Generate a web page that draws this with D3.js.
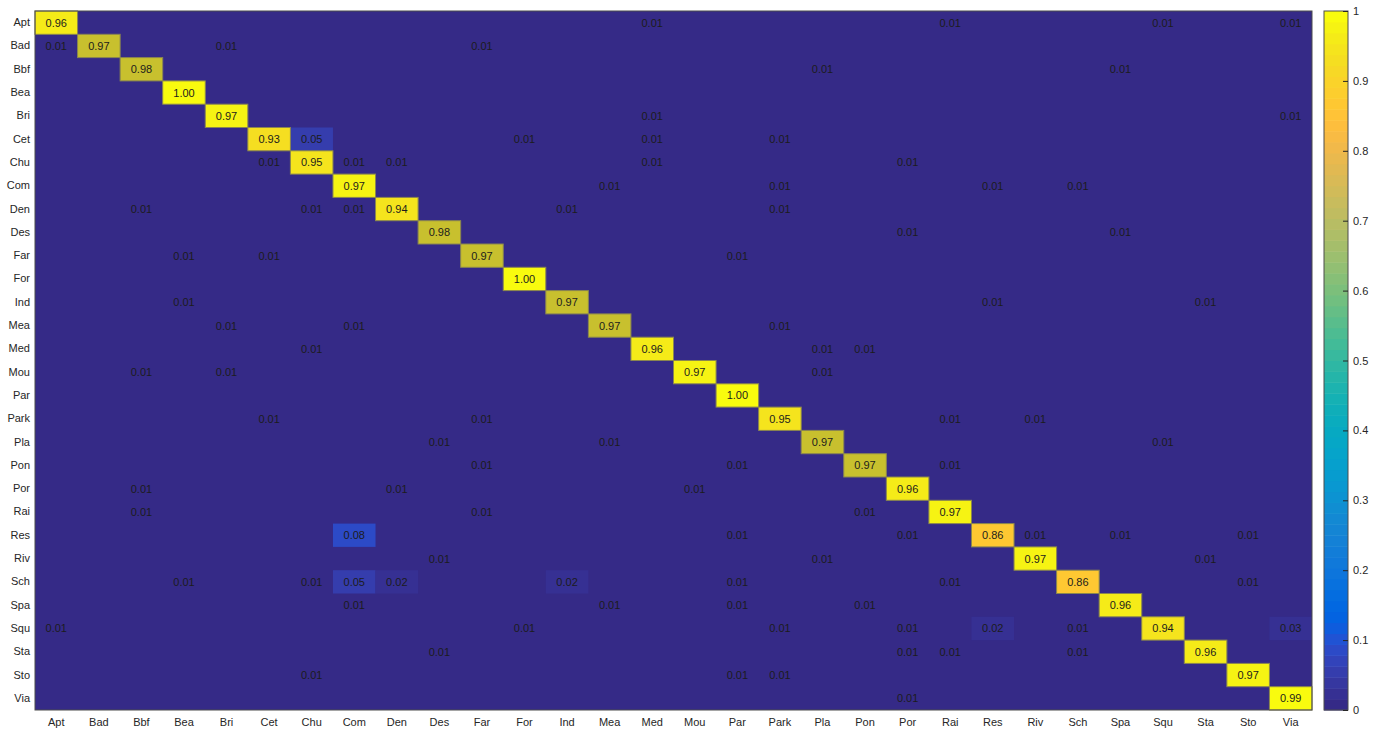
<!DOCTYPE html>
<html>
<head>
<meta charset="utf-8">
<script src="https://cdn.jsdelivr.net/npm/d3@7"></script>
<style>
  body { margin: 0; background: #fff; }
  svg { display: block; font-family: 'Liberation Sans', Arial, sans-serif; }
  .axis text { fill: #262626; font-size: 11px; }
  .axis path, .axis line { stroke: #262626; }
</style>
</head>
<body>
<div id="chart"></div>
<script>
// class names (rows = true class, columns = predicted class)
const classes = ['Apt', 'Bad', 'Bbf', 'Bea', 'Bri', 'Cet', 'Chu', 'Com', 'Den', 'Des',
  'Far', 'For', 'Ind', 'Mea', 'Med', 'Mou', 'Par', 'Park', 'Pla', 'Pon',
  'Por', 'Rai', 'Res', 'Riv', 'Sch', 'Spa', 'Squ', 'Sta', 'Sto', 'Via']

// diagonal (correct) rates, same order as classes
const diagonal = [0.96, 0.97, 0.98, 1.00, 0.97, 0.93, 0.95, 0.97, 0.94, 0.98,
  0.97, 1.00, 0.97, 0.97, 0.96, 0.97, 1.00, 0.95, 0.97, 0.97,
  0.96, 0.97, 0.86, 0.97, 0.86, 0.96, 0.94, 0.96, 0.97, 0.99]

// diagonal cells that are drawn in the muted (olive) shade
const mutedDiagonal = ['Bad', 'Bbf', 'Des', 'Far', 'Ind', 'Mea', 'Pla', 'Pon']

// off-diagonal confusions: [true, predicted, rate]
const confusions = [
  ['Apt', 'Med', 0.01], ['Apt', 'Rai', 0.01], ['Apt', 'Squ', 0.01], ['Apt', 'Via', 0.01],
  ['Bad', 'Apt', 0.01], ['Bad', 'Bri', 0.01], ['Bad', 'Far', 0.01],
  ['Bbf', 'Pla', 0.01], ['Bbf', 'Spa', 0.01],
  ['Bri', 'Med', 0.01], ['Bri', 'Via', 0.01],
  ['Cet', 'Chu', 0.05], ['Cet', 'For', 0.01], ['Cet', 'Med', 0.01], ['Cet', 'Park', 0.01],
  ['Chu', 'Cet', 0.01], ['Chu', 'Com', 0.01], ['Chu', 'Den', 0.01], ['Chu', 'Med', 0.01], ['Chu', 'Por', 0.01],
  ['Com', 'Mea', 0.01], ['Com', 'Park', 0.01], ['Com', 'Res', 0.01], ['Com', 'Sch', 0.01],
  ['Den', 'Bbf', 0.01], ['Den', 'Chu', 0.01], ['Den', 'Com', 0.01], ['Den', 'Ind', 0.01], ['Den', 'Park', 0.01],
  ['Des', 'Por', 0.01], ['Des', 'Spa', 0.01],
  ['Far', 'Bea', 0.01], ['Far', 'Cet', 0.01], ['Far', 'Par', 0.01],
  ['Ind', 'Bea', 0.01], ['Ind', 'Res', 0.01], ['Ind', 'Sta', 0.01],
  ['Mea', 'Bri', 0.01], ['Mea', 'Com', 0.01], ['Mea', 'Park', 0.01],
  ['Med', 'Chu', 0.01], ['Med', 'Pla', 0.01], ['Med', 'Pon', 0.01],
  ['Mou', 'Bbf', 0.01], ['Mou', 'Bri', 0.01], ['Mou', 'Pla', 0.01],
  ['Park', 'Cet', 0.01], ['Park', 'Far', 0.01], ['Park', 'Rai', 0.01], ['Park', 'Riv', 0.01],
  ['Pla', 'Des', 0.01], ['Pla', 'Mea', 0.01], ['Pla', 'Squ', 0.01],
  ['Pon', 'Far', 0.01], ['Pon', 'Par', 0.01], ['Pon', 'Rai', 0.01],
  ['Por', 'Bbf', 0.01], ['Por', 'Den', 0.01], ['Por', 'Mou', 0.01],
  ['Rai', 'Bbf', 0.01], ['Rai', 'Far', 0.01], ['Rai', 'Pon', 0.01],
  ['Res', 'Com', 0.08], ['Res', 'Par', 0.01], ['Res', 'Por', 0.01], ['Res', 'Riv', 0.01], ['Res', 'Spa', 0.01], ['Res', 'Sto', 0.01],
  ['Riv', 'Des', 0.01], ['Riv', 'Pla', 0.01], ['Riv', 'Sta', 0.01],
  ['Sch', 'Bea', 0.01], ['Sch', 'Chu', 0.01], ['Sch', 'Com', 0.05], ['Sch', 'Den', 0.02], ['Sch', 'Ind', 0.02],
  ['Sch', 'Par', 0.01], ['Sch', 'Rai', 0.01], ['Sch', 'Sto', 0.01],
  ['Spa', 'Com', 0.01], ['Spa', 'Mea', 0.01], ['Spa', 'Par', 0.01], ['Spa', 'Pon', 0.01],
  ['Squ', 'Apt', 0.01], ['Squ', 'For', 0.01], ['Squ', 'Park', 0.01], ['Squ', 'Por', 0.01],
  ['Squ', 'Res', 0.02], ['Squ', 'Sch', 0.01], ['Squ', 'Via', 0.03],
  ['Sta', 'Des', 0.01], ['Sta', 'Por', 0.01], ['Sta', 'Rai', 0.01], ['Sta', 'Sch', 0.01],
  ['Sto', 'Chu', 0.01], ['Sto', 'Par', 0.01], ['Sto', 'Park', 0.01],
  ['Via', 'Por', 0.01]
]

const colorbarTicks = [0, 0.1, 0.2, 0.3, 0.4, 0.5, 0.6, 0.7, 0.8, 0.9, 1]

// matlab parula, 64 steps
const parula = [
  [0.2081, 0.1663, 0.5292], [0.2116, 0.1898, 0.5777], [0.2123, 0.2138, 0.6270], [0.2081, 0.2386, 0.6771],
  [0.1959, 0.2645, 0.7279], [0.1707, 0.2919, 0.7792], [0.1253, 0.3242, 0.8303], [0.0591, 0.3598, 0.8683],
  [0.0117, 0.3875, 0.8820], [0.0060, 0.4086, 0.8828], [0.0165, 0.4266, 0.8786], [0.0329, 0.4430, 0.8720],
  [0.0498, 0.4586, 0.8641], [0.0629, 0.4737, 0.8554], [0.0723, 0.4887, 0.8467], [0.0779, 0.5040, 0.8384],
  [0.0793, 0.5200, 0.8312], [0.0749, 0.5375, 0.8263], [0.0641, 0.5570, 0.8240], [0.0488, 0.5772, 0.8228],
  [0.0343, 0.5966, 0.8199], [0.0265, 0.6137, 0.8135], [0.0239, 0.6287, 0.8038], [0.0231, 0.6418, 0.7913],
  [0.0228, 0.6535, 0.7768], [0.0267, 0.6642, 0.7607], [0.0384, 0.6743, 0.7436], [0.0590, 0.6838, 0.7254],
  [0.0843, 0.6928, 0.7062], [0.1133, 0.7015, 0.6859], [0.1453, 0.7098, 0.6646], [0.1801, 0.7177, 0.6424],
  [0.2178, 0.7250, 0.6193], [0.2586, 0.7317, 0.5954], [0.3022, 0.7376, 0.5712], [0.3482, 0.7424, 0.5473],
  [0.3953, 0.7459, 0.5244], [0.4420, 0.7481, 0.5033], [0.4871, 0.7491, 0.4840], [0.5300, 0.7491, 0.4661],
  [0.5709, 0.7485, 0.4494], [0.6099, 0.7473, 0.4337], [0.6473, 0.7456, 0.4188], [0.6834, 0.7435, 0.4044],
  [0.7184, 0.7411, 0.3905], [0.7525, 0.7384, 0.3768], [0.7858, 0.7356, 0.3633], [0.8185, 0.7327, 0.3498],
  [0.8507, 0.7299, 0.3360], [0.8824, 0.7274, 0.3217], [0.9139, 0.7258, 0.3063], [0.9450, 0.7261, 0.2886],
  [0.9739, 0.7314, 0.2666], [0.9938, 0.7455, 0.2403], [0.9990, 0.7653, 0.2164], [0.9955, 0.7861, 0.1967],
  [0.9880, 0.8066, 0.1794], [0.9789, 0.8271, 0.1633], [0.9697, 0.8481, 0.1475], [0.9626, 0.8705, 0.1309],
  [0.9589, 0.8949, 0.1132], [0.9598, 0.9218, 0.0948], [0.9661, 0.9514, 0.0755], [0.9763, 0.9831, 0.0538]
].map(c => d3.rgb(c[0] * 255, c[1] * 255, c[2] * 255).formatHex())

const margin = { top: 11, left: 35, right: 69, bottom: 23 }
const totalW = 1381
const totalH = 733
const width = totalW - margin.left - margin.right
const height = totalH - margin.top - margin.bottom

const svg = d3
  .select('#chart')
  .append('svg')
  .attr('width', totalW)
  .attr('height', totalH)

const g = svg
  .append('g')
  .attr('transform', 'translate(' + margin.left + ',' + margin.top + ')')

const xPositionScale = d3.scaleBand().domain(classes).range([0, width])
const yPositionScale = d3.scaleBand().domain(classes).range([0, height])
const colorScale = d3.scaleQuantize().domain([0, 1]).range(parula)

// build the full grid
const cells = []
classes.forEach((r, i) => {
  classes.forEach((c, j) => {
    cells.push({ row: r, col: c, value: i === j ? diagonal[i] : 0, diag: i === j })
  })
})
confusions.forEach(([r, c, v]) => {
  cells.find(d => d.row === r && d.col === c).value = v
})

g.append('rect')
  .attr('width', width)
  .attr('height', height)
  .attr('fill', parula[0])

const offCells = cells.filter(d => !d.diag && d.value > 0.015)
const diagCells = cells.filter(d => d.diag)

g.selectAll('.off-cell')
  .data(offCells)
  .enter()
  .append('rect')
  .attr('class', 'off-cell')
  .attr('x', d => xPositionScale(d.col))
  .attr('y', d => yPositionScale(d.row))
  .attr('width', xPositionScale.bandwidth())
  .attr('height', yPositionScale.bandwidth())
  .attr('fill', d => colorScale(d.value))

g.selectAll('.diag-cell')
  .data(diagCells)
  .enter()
  .append('rect')
  .attr('class', 'diag-cell')
  .attr('x', d => xPositionScale(d.col))
  .attr('y', d => yPositionScale(d.row))
  .attr('width', xPositionScale.bandwidth())
  .attr('height', yPositionScale.bandwidth())
  .attr('fill', d => (mutedDiagonal.includes(d.row) ? '#c8c02e' : colorScale(d.value)))
  .attr('stroke', '#8a8650')
  .attr('stroke-width', 1)

g.selectAll('.cell-label')
  .data(cells.filter(d => d.value > 0))
  .enter()
  .append('text')
  .attr('class', 'cell-label')
  .attr('x', d => xPositionScale(d.col) + xPositionScale.bandwidth() / 2)
  .attr('y', d => yPositionScale(d.row) + yPositionScale.bandwidth() / 2)
  .attr('dy', '0.36em')
  .attr('text-anchor', 'middle')
  .attr('font-size', 11)
  .attr('fill', '#1c1c1c')
  .text(d => d3.format('.2f')(d.value))

g.append('rect')
  .attr('width', width)
  .attr('height', height)
  .attr('fill', 'none')
  .attr('stroke', '#4d4d4d')
  .attr('stroke-width', 1)

const xAxis = d3.axisBottom(xPositionScale).tickSize(0).tickPadding(8)
g.append('g')
  .attr('class', 'axis x-axis')
  .attr('transform', 'translate(0,' + height + ')')
  .call(xAxis)
  .call(s => s.select('.domain').remove())

const yAxis = d3.axisLeft(yPositionScale).tickSize(0).tickPadding(5)
g.append('g')
  .attr('class', 'axis y-axis')
  .call(yAxis)
  .call(s => s.select('.domain').remove())

// colorbar
const cbX = 1324
const cbW = 24
const cbScale = d3.scaleLinear().domain([0, 1]).range([margin.top + height, margin.top])
const bandH = (cbScale(0) - cbScale(1)) / parula.length

svg.selectAll('.cb-band')
  .data(parula)
  .enter()
  .append('rect')
  .attr('class', 'cb-band')
  .attr('x', cbX)
  .attr('y', (d, i) => cbScale((i + 1) / parula.length))
  .attr('width', cbW)
  .attr('height', bandH + 0.5)
  .attr('fill', d => d)

svg.append('rect')
  .attr('x', cbX)
  .attr('y', cbScale(1))
  .attr('width', cbW)
  .attr('height', cbScale(0) - cbScale(1))
  .attr('fill', 'none')
  .attr('stroke', '#4d4d4d')

const cbAxis = d3.axisRight(cbScale)
  .tickValues(colorbarTicks)
  .tickSizeInner(-5)
  .tickSizeOuter(0)
  .tickPadding(5)
  .tickFormat(d => d)

svg.append('g')
  .attr('class', 'axis cb-axis')
  .attr('transform', 'translate(' + (cbX + cbW) + ',0)')
  .call(cbAxis)
  .call(s => s.select('.domain').remove())
  .call(s => s.selectAll('text').attr('font-size', 10))
</script>
</body>
</html>
